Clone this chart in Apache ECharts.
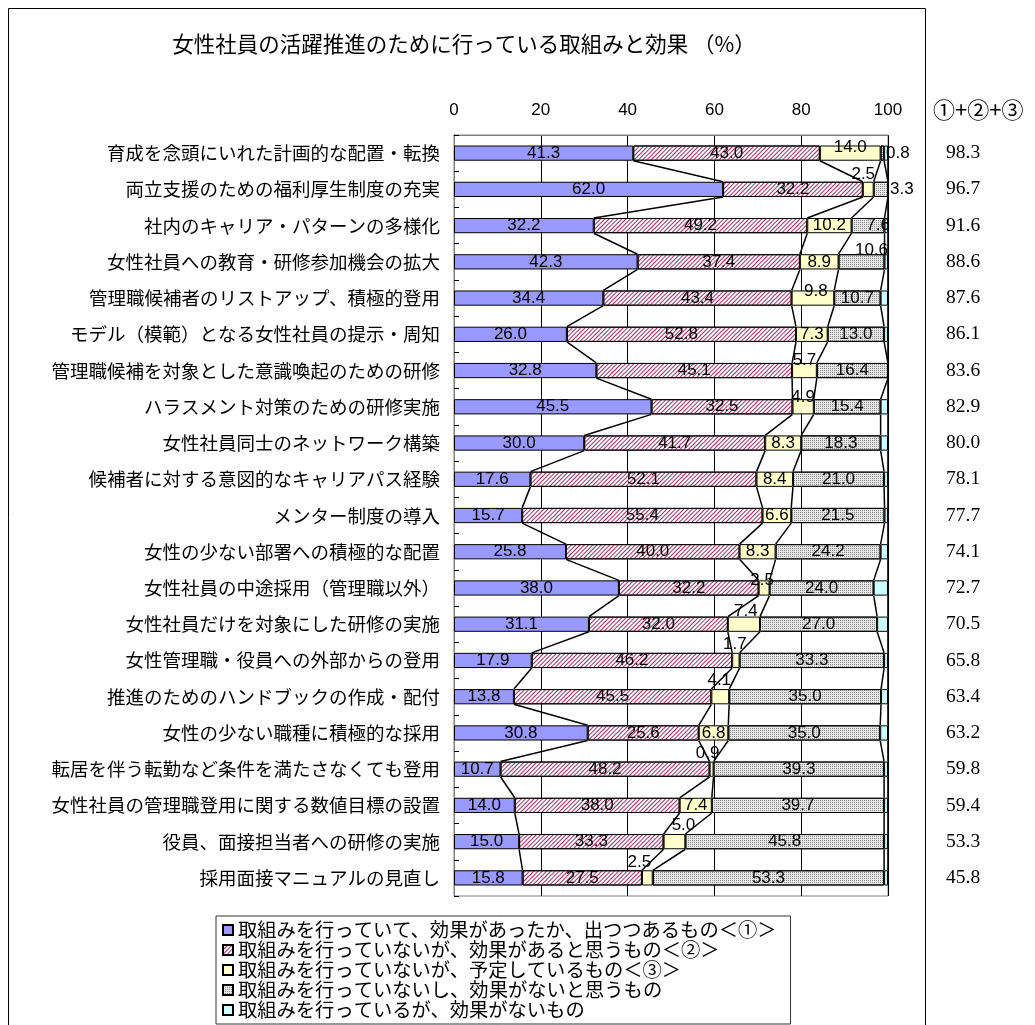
<!DOCTYPE html>
<html>
<head>
<meta charset="utf-8">
<script src="https://cdn.jsdelivr.net/npm/echarts@6/dist/echarts.min.js"></script>
<style>
html,body{margin:0;padding:0;background:#fff;}
#chart{width:1035px;height:1025px;}
</style>
</head>
<body>
<div id="chart"></div>
<script>
const categories = [
  '育成を念頭にいれた計画的な配置・転換',
  '両立支援のための福利厚生制度の充実',
  '社内のキャリア・パターンの多様化',
  '女性社員への教育・研修参加機会の拡大',
  '管理職候補者のリストアップ、積極的登用',
  'モデル（模範）となる女性社員の提示・周知',
  '管理職候補を対象とした意識喚起のための研修',
  'ハラスメント対策のための研修実施',
  '女性社員同士のネットワーク構築',
  '候補者に対する意図的なキャリアパス経験',
  'メンター制度の導入',
  '女性の少ない部署への積極的な配置',
  '女性社員の中途採用（管理職以外）',
  '女性社員だけを対象にした研修の実施',
  '女性管理職・役員への外部からの登用',
  '推進のためのハンドブックの作成・配付',
  '女性の少ない職種に積極的な採用',
  '転居を伴う転勤など条件を満たさなくても登用',
  '女性社員の管理職登用に関する数値目標の設置',
  '役員、面接担当者への研修の実施',
  '採用面接マニュアルの見直し'
];
const seriesNames = [
  '取組みを行っていて、効果があったか、出つつあるもの＜①＞',
  '取組みを行っていないが、効果があると思うもの＜②＞',
  '取組みを行っていないが、予定しているもの＜③＞',
  '取組みを行っていないし、効果がないと思うもの',
  '取組みを行っているが、効果がないもの'
];
const s1 = [41.3, 62.0, 32.2, 42.3, 34.4, 26.0, 32.8, 45.5, 30.0, 17.6, 15.7, 25.8, 38.0, 31.1, 17.9, 13.8, 30.8, 10.7, 14.0, 15.0, 15.8];
const s2 = [43.0, 32.2, 49.2, 37.4, 43.4, 52.8, 45.1, 32.5, 41.7, 52.1, 55.4, 40.0, 32.2, 32.0, 46.2, 45.5, 25.6, 48.2, 38.0, 33.3, 27.5];
const s3 = [14.0, 2.5, 10.2, 8.9, 9.8, 7.3, 5.7, 4.9, 8.3, 8.4, 6.6, 8.3, 2.5, 7.4, 1.7, 4.1, 6.8, 0.9, 7.4, 5.0, 2.5];
const s4 = [0.8, 3.3, 7.6, 10.6, 10.7, 13.0, 16.4, 15.4, 18.3, 21.0, 21.5, 24.2, 24.0, 27.0, 33.3, 35.0, 35.0, 39.3, 39.7, 45.8, 53.3];
const s5 = [0.9, 0.0, 0.8, 0.8, 1.7, 0.9, 0.0, 1.7, 1.7, 0.9, 0.8, 1.7, 3.3, 2.5, 0.9, 1.6, 1.8, 0.9, 0.9, 0.9, 0.9];
const sums = [98.3, 96.7, 91.6, 88.6, 87.6, 86.1, 83.6, 82.9, 80.0, 78.1, 77.7, 74.1, 72.7, 70.5, 65.8, 63.4, 63.2, 59.8, 59.4, 53.3, 45.8];
const xTicks = [0, 20, 40, 60, 80, 100];
const sumHeader = '①+②+③';
const titleText = '女性社員の活躍推進のために行っている取組みと効果 （%）';

// ---- layout / style (not data) ----
const JP = "'Noto Sans CJK JP', sans-serif";
const NUM = "'Liberation Sans', Arial, sans-serif";
const GAP_RATIO = 0.42;
// manual label shifts (like moved labels in the original)
const shift3 = {0:[0,-6],1:[-5,-15],4:[3,-7],6:[0,-10],7:[0,-9],12:[-2,-8],13:[2,-13],14:[-1,-16],15:[-1,-16],17:[-4,-16],19:[9,-16],20:[-8,-16]};
const shift4 = {2:[10,0],3:[10,-12]};
const rightLabel4 = {0:true,1:true};

const allSeries = [s1, s2, s3, s4, s5];
const cum = [];
let run = categories.map(() => 0);
allSeries.forEach(s => { run = run.map((v, i) => v + s[i]); cum.push(run.slice()); });

const lineData = [];
cum.forEach(c => {
  for (let i = 0; i < categories.length - 1; i++) lineData.push([c[i], i, c[i + 1], i + 1]);
});

const styles = [
  {color: '#9999FF', borderColor: '#000', borderWidth: 1},
  {color: '#FFFFFF', borderColor: '#000', borderWidth: 1,
   decal: {symbol: 'rect', symbolSize: 1, dashArrayX: [[1, 0]], dashArrayY: [1, 1.6], rotation: -Math.PI / 4, color: '#993366'}},
  {color: '#FFFFCC', borderColor: '#000', borderWidth: 1},
  {color: '#E6E6E6', borderColor: '#000', borderWidth: 1,
   decal: {symbol: 'rect', symbolSize: 1, dashArrayX: [1, 1], dashArrayY: [1, 1], rotation: 0, color: '#8a8a8a'}},
  {color: '#CCFFFF', borderColor: '#000', borderWidth: 1}
];

function buildData(s, k) {
  return s.map((v, i) => {
    const item = {value: v};
    if (k === 2 && shift3[i]) item.label = {offset: shift3[i]};
    if (k === 3 && shift4[i]) item.label = {offset: shift4[i]};
    if (k === 3 && rightLabel4[i]) item.label = {position: 'right', distance: 2};
    return item;
  });
}

const barSeries = allSeries.map((s, k) => ({
  name: seriesNames[k],
  type: 'bar',
  stack: 'all',
  barCategoryGap: '58%',
  data: buildData(s, k),
  itemStyle: styles[k],
  label: {
    show: k < 4,
    position: 'inside',
    color: '#000',
    fontFamily: NUM,
    fontSize: 17,
    formatter: p => p.value.toFixed(1)
  },
  emphasis: {disabled: true},
  animation: false,
  z: 2
}));

const seriesLines = {
  type: 'custom',
  data: lineData,
  encode: {x: [0, 2], y: [1, 3]},
  silent: true,
  z: 3,
  renderItem: function (params, api) {
    const a = api.coord([api.value(0), api.value(1)]);
    const b = api.coord([api.value(2), api.value(3)]);
    const band = api.size([0, 1])[1];
    const h = band * GAP_RATIO / 2;
    return {
      type: 'line',
      shape: {x1: a[0], y1: a[1] + h, x2: b[0], y2: b[1] - h},
      style: {stroke: '#000', lineWidth: 1.5}
    };
  },
  animation: false
};

const chart = echarts.init(document.getElementById('chart'), null, {renderer: 'canvas'});
chart.setOption({
  backgroundColor: '#fff',
  animation: false,
  aria: {decal: {show: false}},
  grid: {left: 454, right: 147, top: 135, bottom: 129, show: true, borderColor: '#808080', borderWidth: 1, containLabel: false},
  xAxis: {
    type: 'value', position: 'top', min: 0, max: 100, interval: 20,
    axisLine: {show: true, lineStyle: {color: '#808080'}},
    axisTick: {show: false},
    axisLabel: {color: '#000', fontFamily: NUM, fontSize: 17, margin: 16,
      formatter: v => (xTicks.indexOf(v) >= 0 ? String(v) : '')},
    splitLine: {show: true, lineStyle: {color: '#000', width: 1}}
  },
  yAxis: [
    {
      type: 'category', data: categories, inverse: true,
      axisLine: {show: true, lineStyle: {color: '#808080'}},
      axisTick: {show: true, inside: true, length: 5, lineStyle: {color: '#000'}},
      axisLabel: {color: '#000', fontFamily: JP, fontSize: 18.5, margin: 14}
    },
    {
      type: 'category', data: sums.map(v => v.toFixed(1)), inverse: true,
      position: 'right', offset: 50,
      axisLine: {show: false}, axisTick: {show: false},
      axisLabel: {color: '#000', fontFamily: "'Liberation Serif', 'Times New Roman', serif", fontSize: 19.5, margin: 8}
    }
  ],
  legend: {
    show: true,
    data: seriesNames,
    orient: 'vertical',
    left: 216, top: 916,
    padding: [4, 14, 4, 6],
    itemGap: 0,
    itemWidth: 10, itemHeight: 10,
    icon: 'rect',
    borderColor: '#333', borderWidth: 1,
    textStyle: {color: '#000', fontFamily: JP, fontSize: 19.3, lineHeight: 20},
    selectedMode: false
  },
  graphic: [
    {type: 'rect', shape: {x: 8.5, y: 8.5, width: 917, height: 1040}, style: {fill: 'none', stroke: '#000', lineWidth: 1}, silent: true, z: 0},
    {type: 'text', x: 464, y: 44, style: {text: titleText, fontFamily: JP, fontSize: 21.5, fill: '#000', textAlign: 'center', textVerticalAlign: 'middle'}},
    {type: 'text', x: 933, y: 110, style: {text: sumHeader, fontFamily: JP, fontSize: 22, fill: '#000', textAlign: 'left', textVerticalAlign: 'middle'}}
  ],
  series: barSeries.concat([seriesLines])
});
</script>
</body>
</html>
